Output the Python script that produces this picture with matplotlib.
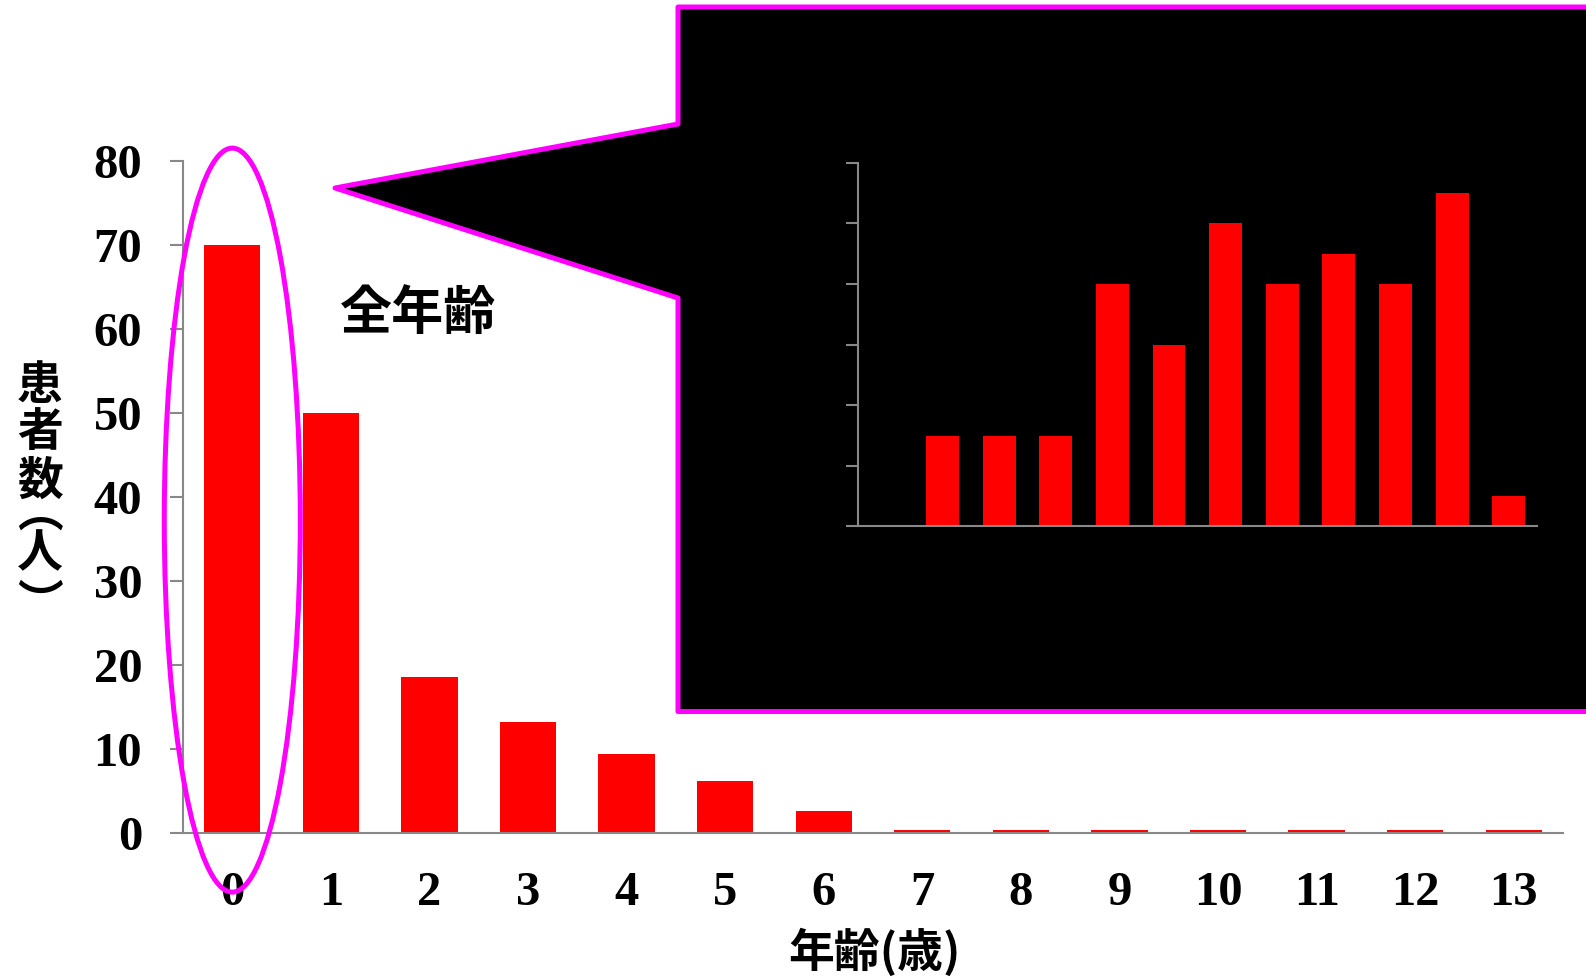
import matplotlib.pyplot as plt
from matplotlib.patches import Polygon, Ellipse

# patients per age (years)
ages = [str(a) for a in range(14)]
patients = [70, 50, 18.5, 13.2, 9.4, 6.1, 2.6, 0.3, 0.3, 0.3, 0.3, 0.3, 0.3, 0.3]

# age 0 broken down by month (0-11 months)
months = list(range(12))
patients_age0 = [0, 3, 3, 3, 8, 6, 10, 8, 9, 8, 11, 1]

yticks_main = [0, 10, 20, 30, 40, 50, 60, 70, 80]
yticks_inset = [0, 2, 4, 6, 8, 10, 12]

W, H = 1586, 980
RED = "#FF0000"
MAGENTA = "#FF00FF"
GRAY = "#888888"
JP = ["Noto Sans CJK JP", "DejaVu Sans"]
SERIF = "Liberation Serif"


def fig_xy(x, y):
    """pixel position (from top-left) -> figure fraction"""
    return (x / W, 1 - y / H)


fig = plt.figure(figsize=(W / 100, H / 100), dpi=100)

# main chart
x0, y0 = fig_xy(183, 832.5)
x1, y1 = fig_xy(1563, 160.7)
ax = fig.add_axes([x0, y0, x1 - x0, y1 - y0])
ax.bar(range(len(ages)), patients, width=0.57, color=RED, zorder=2)
ax.set_xlim(-0.5, len(ages) - 0.5)
ax.set_ylim(0, 80)
ax.set_yticks(yticks_main)
ax.set_xticks(range(len(ages)))
ax.set_xticklabels(ages)
for s in ["top", "right"]:
    ax.spines[s].set_visible(False)
for s in ["left", "bottom"]:
    ax.spines[s].set_color(GRAY)
    ax.spines[s].set_linewidth(1.5)
ax.tick_params(axis="y", direction="out", length=9.4, width=1.5, color=GRAY, pad=20)
ax.tick_params(axis="x", length=0, pad=28)
for lab in ax.get_xticklabels() + ax.get_yticklabels():
    lab.set_fontfamily(SERIF)
    lab.set_fontweight("bold")
    lab.set_fontsize(35)

# highlight the age-0 bar
ax.add_patch(Ellipse((0, 37.2), 1.38, 88.6, fill=False, ec=MAGENTA, lw=3.6,
                     clip_on=False, zorder=5))

# vertical y title, one character per line; the vertical-form brackets
# sit off-centre in their glyph box, hence the uneven spacing
ylab_chars = ["患", "者", "数", "︵", "人", "︶"]
ylab_pos = [386, 433, 482, 514, 554, 605]
for ch, yp in zip(ylab_chars, ylab_pos):
    fig.text(*fig_xy(40, yp), ch, family=JP, fontsize=33, fontweight="bold",
             ha="center", va="center")
fig.text(*fig_xy(874, 953), "年齢(歳)", family=JP, fontsize=33,
         fontweight="bold", ha="center", va="center")
fig.text(*fig_xy(340, 313), "全年齢", family=JP, fontsize=37.5,
         fontweight="bold", ha="left", va="center")

# callout box pointing at the age-0 bar
callout = [(678, 7), (1620, 7), (1620, 711.5), (678, 711.5), (678, 298),
           (335, 188), (678, 124)]
fig.add_artist(Polygon([fig_xy(*p) for p in callout], closed=True,
                       fc="black", ec=MAGENTA, lw=3.6, joinstyle="round",
                       zorder=2))

# inset: monthly breakdown
ix0, iy0 = fig_xy(857.7, 526.5)
ix1, iy1 = fig_xy(1537, 162.7)
axi = fig.add_axes([ix0, iy0, ix1 - ix0, iy1 - iy0], zorder=3)
axi.patch.set_alpha(0)
axi.bar(months, patients_age0, width=0.58, color=RED)
axi.set_xlim(-0.5, len(months) - 0.5)
axi.set_ylim(0, 12)
axi.set_yticks(yticks_inset)
axi.set_yticklabels([])
axi.set_xticks([])
for s in ["top", "right"]:
    axi.spines[s].set_visible(False)
for s in ["left", "bottom"]:
    axi.spines[s].set_color(GRAY)
    axi.spines[s].set_linewidth(1.5)
axi.tick_params(axis="y", direction="out", length=8.8, width=1.5, color=GRAY)

fig.savefig("out.png", dpi=100)
